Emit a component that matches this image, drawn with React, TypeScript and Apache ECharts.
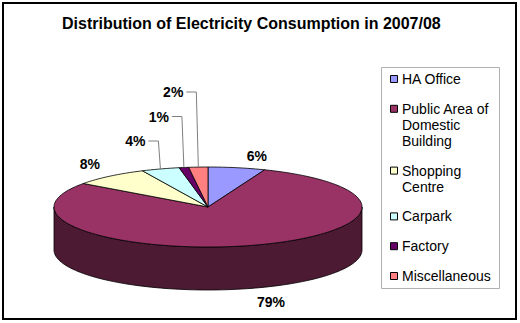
import React, { useEffect, useRef } from "react";
import * as echarts from "echarts";

const categories = [
  "HA Office",
  "Public Area of Domestic Building",
  "Shopping Centre",
  "Carpark",
  "Factory",
  "Miscellaneous",
];
const values = [6, 79, 8, 4, 1, 2];
const colors = ["#9999FF", "#993366", "#FFFFCC", "#CCFFFF", "#660066", "#FF8080"];
const titleText = "Distribution of Electricity Consumption in 2007/08";

const total = values.reduce((a, b) => a + b, 0);
const starts: number[] = [];
values.reduce((acc, v, i) => {
  starts[i] = acc;
  return acc + v / total;
}, 0);

// geometry of the tilted pie
const CX = 208;
const CY = 207;
const RX = 154;
const RY = 40;
const DEPTH = 43;
const FONT = "Liberation Sans, Arial, sans-serif";

function pt(f: number, dy = 0): number[] {
  const t = f * Math.PI * 2;
  return [CX + RX * Math.sin(t), CY - RY * Math.cos(t) + dy];
}

function arc(a: number, b: number, dy = 0): number[][] {
  const n = Math.max(2, Math.ceil((b - a) * 200));
  const out: number[][] = [];
  for (let k = 0; k <= n; k++) out.push(pt(a + ((b - a) * k) / n, dy));
  return out;
}

function darken(hex: string, k: number): string {
  const c = echarts.color.parse(hex) as number[];
  return `rgb(${Math.round(c[0] * k)},${Math.round(c[1] * k)},${Math.round(c[2] * k)})`;
}

function wrap(s: string, max: number): string[] {
  const words = s.split(" ");
  const lines: string[] = [];
  let cur = "";
  for (const w of words) {
    const next = cur ? cur + " " + w : w;
    if (next.length > max && cur) {
      lines.push(cur);
      cur = w;
    } else cur = next;
  }
  if (cur) lines.push(cur);
  return lines;
}

export default function App() {
  const ref = useRef<HTMLDivElement>(null);
  useEffect(() => {
    if (!ref.current) return;
    const chart = echarts.init(ref.current, undefined, { renderer: "svg" });

    const smallIdx: number[] = [];
    values.forEach((v, i) => {
      if (v / total < 0.05) smallIdx.push(i);
    });

    const renderItem = (params: any, api: any) => {
      const i = params.dataIndex;
      const v = api.value(0);
      const f0 = starts[i];
      const f1 = f0 + v / total;
      const color = colors[i];
      const children: any[] = [];

      // top face
      children.push({
        type: "polygon",
        z2: 10,
        shape: { points: [[CX, CY], ...arc(f0, f1)] },
        style: { fill: color, stroke: "#000", lineWidth: 0.8 },
      });

      // visible front side
      const a = Math.max(f0, 0.25);
      const b = Math.min(f1, 0.75);
      if (b > a) {
        const top = arc(a, b);
        const bottom = arc(a, b, DEPTH).reverse();
        children.push({
          type: "polygon",
          z2: 5,
          shape: { points: [...top, ...bottom] },
          style: { fill: darken(color, 0.5), stroke: "#000", lineWidth: 0.8 },
        });
      }

      // label
      const pct = Math.round((v / total) * 100) + "%";
      const mid = (f0 + f1) / 2;
      const t = mid * Math.PI * 2;
      const font = `bold 14px ${FONT}`;
      const si = smallIdx.indexOf(i);
      if (si >= 0) {
        const [ax, ay] = pt(mid);
        const ly = CY - RY - 26 - si * 24.5;
        children.push({
          type: "polyline",
          z2: 15,
          shape: { points: [[ax - 12, ly], [ax - 2, ly], [ax, ay]] },
          style: { stroke: "#7f7f7f", lineWidth: 1, fill: null },
        });
        children.push({
          type: "text",
          z2: 20,
          style: { text: pct, x: ax - 15, y: ly, align: "right", verticalAlign: "middle", font, fill: "#000" },
        });
      } else {
        const front = Math.cos(t) < 0;
        const [px, py] = pt(mid, front ? DEPTH : 0);
        const lx = px + Math.sign(Math.sin(t)) * 20;
        const ly = py + (front ? 14 : -12);
        children.push({
          type: "text",
          z2: 20,
          style: { text: pct, x: lx, y: ly, align: "center", verticalAlign: "middle", font, fill: "#000" },
        });
      }
      return { type: "group", children };
    };

    // legend drawn from the categories
    const legendLines = categories.map((c) => wrap(c, 14));
    const LH = 16;
    const gap = 13.8;
    const legendEls: any[] = [];
    let y = 71;
    legendLines.forEach((lines, i) => {
      legendEls.push({
        type: "rect",
        shape: { x: 390.5, y: y + 4.5, width: 7, height: 7 },
        style: { fill: colors[i], stroke: "#000", lineWidth: 1 },
      });
      legendEls.push({
        type: "text",
        style: {
          text: lines.join("\n"),
          x: 402,
          y: y,
          font: `14px ${FONT}`,
          lineHeight: LH,
          fill: "#000",
          verticalAlign: "top",
        },
      });
      y += lines.length * LH + gap;
    });

    chart.setOption({
      animation: false,
      backgroundColor: "#fff",
      title: {
        text: titleText,
        left: 62,
        top: 15,
        padding: 0,
        textStyle: { fontSize: 16, fontWeight: "bold", fontFamily: FONT, color: "#000" },
      },
      graphic: [
        {
          type: "rect",
          shape: { x: 3, y: 3, width: 513, height: 316 },
          style: { fill: null, stroke: "#000", lineWidth: 2 },
        },
        {
          type: "rect",
          shape: { x: 381.5, y: 67.5, width: 118, height: 221 },
          style: { fill: "#fff", stroke: "#b0b0b0", lineWidth: 1 },
        },
        ...legendEls,
      ],
      series: [
        {
          type: "custom",
          coordinateSystem: "none",
          renderItem,
          data: values.map((v, i) => ({ name: categories[i], value: [v] })),
        },
      ],
    });
    return () => chart.dispose();
  }, []);
  return (
    <div
      ref={ref}
      style={{ position: "fixed", left: 0, top: 0, width: 520, height: 323, background: "#fff" }}
    />
  );
}
